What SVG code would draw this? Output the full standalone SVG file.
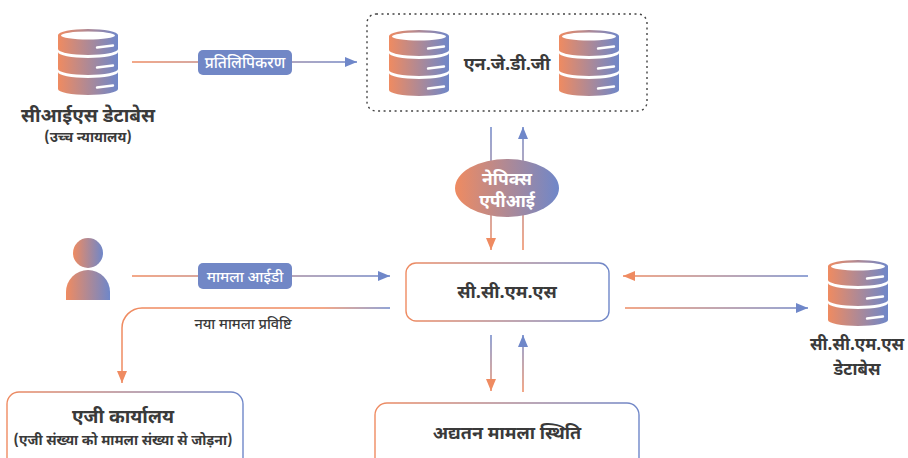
<svg xmlns="http://www.w3.org/2000/svg" width="908" height="458" viewBox="0 0 908 458">
<style>
  .t { font-family: "Noto Sans Devanagari", "Noto Sans", "Liberation Sans", sans-serif; fill: #3a3a3a; text-anchor: middle; }
  .b { font-weight: 700; }
  .m { font-weight: 500; }
  .w { fill: #ffffff; }
  .ln { fill: none; stroke-width: 1.5; }
  .box { fill: #ffffff; stroke: url(#gShape); stroke-width: 1.4; }
  .lbl { fill: #7187c6; }
</style>
<defs>
  <linearGradient id="gShape" x1="0" y1="0" x2="1" y2="0">
    <stop offset="0" stop-color="#ef8b61"/>
    <stop offset="1" stop-color="#6f87c9"/>
  </linearGradient>
  <linearGradient id="gL1" gradientUnits="userSpaceOnUse" x1="132" y1="0" x2="357" y2="0">
    <stop offset="0" stop-color="#ef8b61"/><stop offset="1" stop-color="#6f87c9"/>
  </linearGradient>
  <linearGradient id="gL4" gradientUnits="userSpaceOnUse" x1="132" y1="0" x2="390" y2="0">
    <stop offset="0" stop-color="#ef8b61"/><stop offset="1" stop-color="#6f87c9"/>
  </linearGradient>
  <linearGradient id="gL5" gradientUnits="userSpaceOnUse" x1="122" y1="0" x2="390" y2="0">
    <stop offset="0" stop-color="#ef8b61"/><stop offset="0.75" stop-color="#ef8b61"/><stop offset="1" stop-color="#6f87c9"/>
  </linearGradient>
  <linearGradient id="gL6" gradientUnits="userSpaceOnUse" x1="623" y1="0" x2="808" y2="0">
    <stop offset="0" stop-color="#ef8b61"/><stop offset="1" stop-color="#6f87c9"/>
  </linearGradient>
  <linearGradient id="gVtop" gradientUnits="userSpaceOnUse" x1="0" y1="127" x2="0" y2="250">
    <stop offset="0" stop-color="#6f87c9"/><stop offset="1" stop-color="#ef8b61"/>
  </linearGradient>
  <linearGradient id="gVbot" gradientUnits="userSpaceOnUse" x1="0" y1="335" x2="0" y2="392">
    <stop offset="0" stop-color="#6f87c9"/><stop offset="1" stop-color="#ef8b61"/>
  </linearGradient>
  <marker id="aO" viewBox="0 0 12 12" refX="12" refY="6" markerWidth="12" markerHeight="12" markerUnits="userSpaceOnUse" orient="auto">
    <path d="M0,1 L12,6 L0,11 Z" fill="#ef8b61"/>
  </marker>
  <marker id="aB" viewBox="0 0 12 12" refX="12" refY="6" markerWidth="12" markerHeight="12" markerUnits="userSpaceOnUse" orient="auto">
    <path d="M0,1 L12,6 L0,11 Z" fill="#6f87c9"/>
  </marker>
  <g id="db">
    <path d="M0,6 A30,6 0 0 1 60,6 V20 A30,6 0 0 1 0,20 Z" fill="url(#gShape)"/>
    <ellipse cx="30" cy="6.5" rx="27" ry="4" fill="#ffffff"/>
    <path d="M0,23 A30,6 0 0 0 60,23 V40 A30,6 0 0 1 0,40 Z" fill="url(#gShape)"/>
    <path d="M0,43 A30,6 0 0 0 60,43 V60 A30,6 0 0 1 0,60 Z" fill="url(#gShape)"/>
    <path d="M39,18.5 L55,16.5 M39,38.5 L55,36.5 M39,58.5 L55,56.5" stroke="#ffffff" stroke-width="2.4" stroke-linecap="round" fill="none"/>
  </g>
</defs>

<g id="connectors">
  <line class="ln" x1="132" y1="62" x2="357" y2="62" stroke="url(#gL1)" marker-end="url(#aB)"/>
  <line class="ln" x1="491" y1="127" x2="491" y2="250" stroke="url(#gVtop)" marker-end="url(#aO)"/>
  <line class="ln" x1="523" y1="250" x2="523" y2="127" stroke="url(#gVtop)" marker-end="url(#aB)"/>
  <line class="ln" x1="132" y1="276" x2="390" y2="276" stroke="url(#gL4)" marker-end="url(#aB)"/>
  <path class="ln" d="M390,308 H142 A20,20 0 0 0 122,328 V383" stroke="url(#gL5)" marker-end="url(#aO)"/>
  <line class="ln" x1="808" y1="276" x2="623" y2="276" stroke="url(#gL6)" marker-end="url(#aO)"/>
  <line class="ln" x1="625" y1="308" x2="808" y2="308" stroke="url(#gL6)" marker-end="url(#aB)"/>
  <line class="ln" x1="491" y1="335" x2="491" y2="391" stroke="url(#gVbot)" marker-end="url(#aO)"/>
  <line class="ln" x1="523" y1="392" x2="523" y2="335" stroke="url(#gVbot)" marker-end="url(#aB)"/>
  <g id="lbl-replication">
    <rect class="lbl" x="198" y="50" width="94" height="25" rx="5"/>
    <text class="t w m" x="245" y="68" font-size="15.5">प्रतिलिपिकरण</text>
  </g>
  <g id="lbl-caseid">
    <rect class="lbl" x="198" y="263" width="94" height="26" rx="5"/>
    <text class="t w m" x="245" y="281.5" font-size="15">मामला आईडी</text>
  </g>
  <text class="t m" x="243" y="329" font-size="14.5">नया मामला प्रविष्टि</text>
</g>

<g id="cis-db">
  <use href="#db" x="58" y="29"/>
  <text class="t b" x="88" y="122" font-size="19">सीआईएस डेटाबेस</text>
  <text class="t b" x="88" y="142" font-size="14">(उच्च न्यायालय)</text>
</g>

<g id="njdg">
  <rect x="367" y="14" width="280" height="97" rx="9" fill="none" stroke="#444444" stroke-width="1.4" stroke-dasharray="2 3.5"/>
  <use href="#db" x="389" y="30"/>
  <use href="#db" x="559" y="30"/>
  <text class="t b" x="507" y="70" font-size="18">एन.जे.डी.जी</text>
</g>

<g id="nepix">
  <ellipse cx="507" cy="188" rx="52" ry="29" fill="url(#gShape)"/>
  <text class="t b w" x="507" y="185" font-size="17.5">नेपिक्स</text>
  <text class="t b w" x="507" y="207" font-size="17.5">एपीआई</text>
</g>

<g id="user">
  <circle cx="88" cy="253" r="15" fill="url(#gShape)"/>
  <path d="M66,300 V292 A22,22 0 0 1 110,292 V300 Z" fill="url(#gShape)"/>
</g>

<g id="ccms">
  <rect class="box" x="406" y="263" width="203" height="58" rx="10"/>
  <text class="t b" x="507" y="298" font-size="18">सी.सी.एम.एस</text>
</g>

<g id="ccms-db">
  <use href="#db" x="828" y="260"/>
  <text class="t b" x="857" y="350" font-size="17">सी.सी.एम.एस</text>
  <text class="t b" x="857" y="375" font-size="17">डेटाबेस</text>
</g>

<g id="ag-office">
  <rect class="box" x="7" y="392" width="236" height="80" rx="12"/>
  <text class="t b" x="123" y="423" font-size="19">एजी कार्यालय</text>
  <text class="t b" x="123" y="445" font-size="14">(एजी संख्या को मामला संख्या से जोड़ना)</text>
</g>

<g id="status">
  <rect class="box" x="375" y="403" width="264" height="75" rx="12"/>
  <text class="t b" x="507" y="439" font-size="18">अद्यतन मामला स्थिति</text>
</g>
</svg>
